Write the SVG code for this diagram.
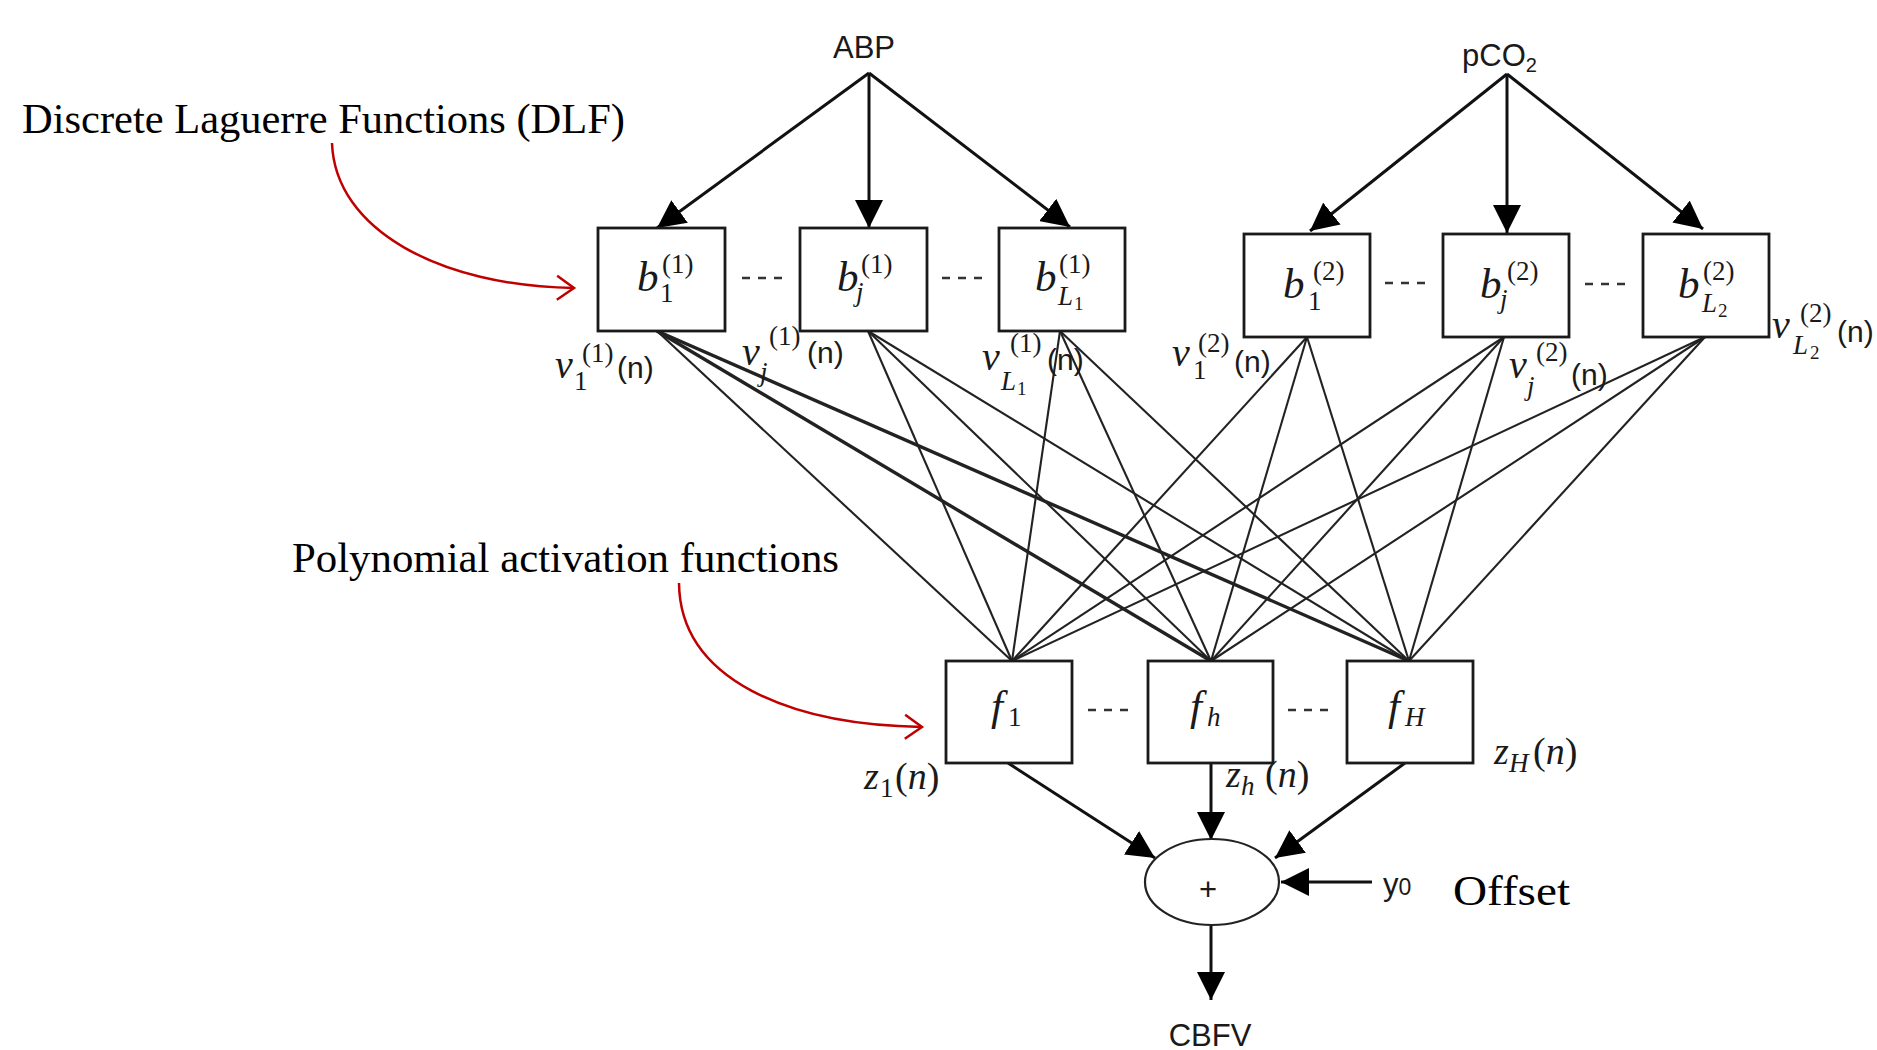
<svg xmlns="http://www.w3.org/2000/svg" width="1877" height="1050" viewBox="0 0 1877 1050">
<style>
.box{fill:#fff;stroke:#1a1a1a;stroke-width:2.8}
.arr{stroke:#111;stroke-width:3;fill:none}
.fan{stroke:#222;stroke-width:2.1;fill:none}
.fanb{stroke:#222;stroke-width:3.4;fill:none}
.dots{stroke:#333;stroke-width:2.6;stroke-dasharray:8 8}
.red{stroke:#c00000;stroke-width:2.5;fill:none}
.lab{font-family:"Liberation Serif",serif;font-size:43px;fill:#000}
.sans{font-family:"Liberation Sans",sans-serif;font-size:31px;fill:#1a1a1a}
.mi{font-family:"Liberation Serif",serif;font-style:italic;font-size:43px;fill:#1a1a1a}
.mv{font-family:"Liberation Serif",serif;font-style:italic;font-size:40px;fill:#1a1a1a}
.sup{font-family:"Liberation Serif",serif;font-size:27px;fill:#1a1a1a}
.subi{font-family:"Liberation Serif",serif;font-style:italic;font-size:27px;fill:#1a1a1a}
.subs{font-family:"Liberation Serif",serif;font-size:19px;fill:#1a1a1a}
.n{font-family:"Liberation Sans",sans-serif;font-size:30px;fill:#1a1a1a}
.zi{font-family:"Liberation Serif",serif;font-style:italic;font-size:38px;fill:#1a1a1a}
.zp{font-family:"Liberation Serif",serif;font-size:38px;fill:#1a1a1a}
</style>
<defs>
<marker id="ah" viewBox="0 0 28 28" refX="28" refY="14" markerWidth="28" markerHeight="28" markerUnits="userSpaceOnUse" orient="auto"><path d="M0,0 L28,14 L0,28 z" fill="#000"/></marker>
<marker id="rh" viewBox="0 0 20 26" refX="18" refY="13" markerWidth="20" markerHeight="26" markerUnits="userSpaceOnUse" orient="auto" overflow="visible"><path d="M1,1 L18,13 L1,25" fill="none" stroke="#c00000" stroke-width="2.5"/></marker>
</defs>

<g id="connectors">
  <line class="arr" x1="869" y1="73" x2="657" y2="228" marker-end="url(#ah)"/>
  <line class="arr" x1="869" y1="73" x2="869" y2="228" marker-end="url(#ah)"/>
  <line class="arr" x1="869" y1="73" x2="1070" y2="227" marker-end="url(#ah)"/>
  <line class="arr" x1="1507" y1="74" x2="1310" y2="231" marker-end="url(#ah)"/>
  <line class="arr" x1="1507" y1="74" x2="1507" y2="233" marker-end="url(#ah)"/>
  <line class="arr" x1="1507" y1="74" x2="1703" y2="229" marker-end="url(#ah)"/>

  <line class="fan" x1="657" y1="331" x2="1012" y2="661"/>
  <line class="fanb" x1="657" y1="331" x2="1211" y2="661"/>
  <line class="fanb" x1="657" y1="331" x2="1409" y2="661"/>
  <line class="fan" x1="868" y1="331" x2="1012" y2="661"/>
  <line class="fan" x1="868" y1="331" x2="1211" y2="661"/>
  <line class="fan" x1="868" y1="331" x2="1409" y2="661"/>
  <line class="fan" x1="1060" y1="331" x2="1012" y2="661"/>
  <line class="fan" x1="1060" y1="331" x2="1211" y2="661"/>
  <line class="fan" x1="1060" y1="331" x2="1409" y2="661"/>
  <line class="fan" x1="1307" y1="337" x2="1012" y2="661"/>
  <line class="fan" x1="1307" y1="337" x2="1211" y2="661"/>
  <line class="fan" x1="1307" y1="337" x2="1409" y2="661"/>
  <line class="fan" x1="1504" y1="337" x2="1012" y2="661"/>
  <line class="fan" x1="1504" y1="337" x2="1211" y2="661"/>
  <line class="fan" x1="1504" y1="337" x2="1409" y2="661"/>
  <line class="fan" x1="1705" y1="337" x2="1012" y2="661"/>
  <line class="fan" x1="1705" y1="337" x2="1211" y2="661"/>
  <line class="fan" x1="1705" y1="337" x2="1409" y2="661"/>

  <line class="arr" x1="1008" y1="763" x2="1155" y2="858" marker-end="url(#ah)"/>
  <line class="arr" x1="1211" y1="763" x2="1211" y2="840" marker-end="url(#ah)"/>
  <line class="arr" x1="1405" y1="763" x2="1275" y2="858" marker-end="url(#ah)"/>
  <line class="arr" x1="1372" y1="882" x2="1281" y2="882" marker-end="url(#ah)"/>
  <line class="arr" x1="1211" y1="925" x2="1211" y2="1000" marker-end="url(#ah)"/>

  <path class="red" d="M332,143 C335,230 440,286 574,288" marker-end="url(#rh)"/>
  <path class="red" d="M679,583 C680,680 790,725 922,727" marker-end="url(#rh)"/>

  <line class="dots" x1="742" y1="278" x2="787" y2="278"/>
  <line class="dots" x1="942" y1="278" x2="987" y2="278"/>
  <line class="dots" x1="1385" y1="283" x2="1430" y2="283"/>
  <line class="dots" x1="1585" y1="284" x2="1630" y2="284"/>
  <line class="dots" x1="1088" y1="710" x2="1133" y2="710"/>
  <line class="dots" x1="1288" y1="710" x2="1333" y2="710"/>
</g>

<g id="ABP"><text class="sans" x="864" y="58" text-anchor="middle">ABP</text></g>
<g id="pCO2"><text class="sans" x="1462" y="66">pCO<tspan font-size="20" dy="6">2</tspan></text></g>

<g id="b1_1">
  <rect class="box" x="598" y="228" width="127" height="103"/>
  <text class="mi" x="637" y="291">b</text><text class="sup" x="662" y="273">(1)</text><text class="sup" x="660" y="302">1</text>
</g>
<g id="bj_1">
  <rect class="box" x="800" y="228" width="127" height="103"/>
  <text class="mi" x="837" y="291">b</text><text class="sup" x="861" y="273">(1)</text><text class="subi" x="856" y="301">j</text>
</g>
<g id="bL1_1">
  <rect class="box" x="999" y="228" width="126" height="103"/>
  <text class="mi" x="1035" y="291">b</text><text class="sup" x="1059" y="273">(1)</text><text class="subi" x="1058" y="305">L</text><text class="subs" x="1074" y="310">1</text>
</g>
<g id="b1_2">
  <rect class="box" x="1244" y="234" width="126" height="103"/>
  <text class="mi" x="1283" y="298">b</text><text class="sup" x="1313" y="280">(2)</text><text class="sup" x="1308" y="310">1</text>
</g>
<g id="bj_2">
  <rect class="box" x="1443" y="234" width="126" height="103"/>
  <text class="mi" x="1480" y="298">b</text><text class="sup" x="1507" y="280">(2)</text><text class="subi" x="1500" y="308">j</text>
</g>
<g id="bL2_2">
  <rect class="box" x="1643" y="234" width="126" height="103"/>
  <text class="mi" x="1678" y="298">b</text><text class="sup" x="1703" y="280">(2)</text><text class="subi" x="1702" y="312">L</text><text class="subs" x="1718" y="317">2</text>
</g>

<g id="v-labels">
  <text class="mv" x="555" y="378">v</text><text class="sup" x="582" y="362">(1)</text><text class="sup" x="574" y="390">1</text><text class="n" x="617" y="378">(n)</text>
  <text class="mv" x="742" y="365">v</text><text class="sup" x="769" y="345">(1)</text><text class="subi" x="760" y="381">j</text><text class="n" x="807" y="363">(n)</text>
  <text class="mv" x="982" y="370">v</text><text class="sup" x="1010" y="352">(1)</text><text class="subi" x="1001" y="390">L</text><text class="subs" x="1017" y="395">1</text><text class="n" x="1047" y="370">(n)</text>
  <text class="mv" x="1172" y="366">v</text><text class="sup" x="1198" y="352">(2)</text><text class="sup" x="1193" y="379">1</text><text class="n" x="1234" y="372">(n)</text>
  <text class="mv" x="1509" y="378">v</text><text class="sup" x="1536" y="361">(2)</text><text class="subi" x="1527" y="395">j</text><text class="n" x="1571" y="385">(n)</text>
  <text class="mv" x="1772" y="338">v</text><text class="sup" x="1800" y="322">(2)</text><text class="subi" x="1793" y="354">L</text><text class="subs" x="1810" y="359">2</text><text class="n" x="1837" y="342">(n)</text>
</g>

<g id="f1">
  <rect class="box" x="946" y="661" width="126" height="102"/>
  <text class="mi" x="991" y="720">f</text><text class="sup" x="1008" y="726">1</text>
</g>
<g id="fh">
  <rect class="box" x="1148" y="661" width="125" height="102"/>
  <text class="mi" x="1190" y="720">f</text><text class="subi" x="1207" y="726">h</text>
</g>
<g id="fH">
  <rect class="box" x="1347" y="661" width="126" height="102"/>
  <text class="mi" x="1388" y="720">f</text><text class="subi" x="1405" y="726">H</text>
</g>

<g id="z-labels">
  <text class="zi" x="864" y="789">z</text><text class="sup" x="880" y="797">1</text><text class="zp" x="895" y="789">(<tspan font-style="italic">n</tspan>)</text>
  <text class="zi" x="1226" y="787">z</text><text class="subi" x="1241" y="795">h</text><text class="zp" x="1265" y="787">(<tspan font-style="italic">n</tspan>)</text>
  <text class="zi" x="1494" y="764">z</text><text class="subi" x="1509" y="772">H</text><text class="zp" x="1533" y="764">(<tspan font-style="italic">n</tspan>)</text>
</g>

<g id="sum">
  <ellipse cx="1212" cy="882" rx="67" ry="43" fill="#fff" stroke="#222" stroke-width="2.2"/>
  <text class="sans" x="1208" y="900" text-anchor="middle" font-size="30">+</text>
</g>
<g id="y0"><text class="sans" x="1383" y="895" font-size="32">y<tspan font-size="23">0</tspan></text></g>
<g id="offset"><text class="lab" x="1453" y="905" font-size="47" textLength="117" lengthAdjust="spacingAndGlyphs">Offset</text></g>
<g id="CBFV"><text class="sans" x="1210" y="1046" text-anchor="middle">CBFV</text></g>

<g id="dlf-label"><text class="lab" x="22" y="133" textLength="603" lengthAdjust="spacingAndGlyphs">Discrete Laguerre Functions (DLF)</text></g>
<g id="poly-label"><text class="lab" x="292" y="572" textLength="547" lengthAdjust="spacingAndGlyphs">Polynomial activation functions</text></g>
</svg>
